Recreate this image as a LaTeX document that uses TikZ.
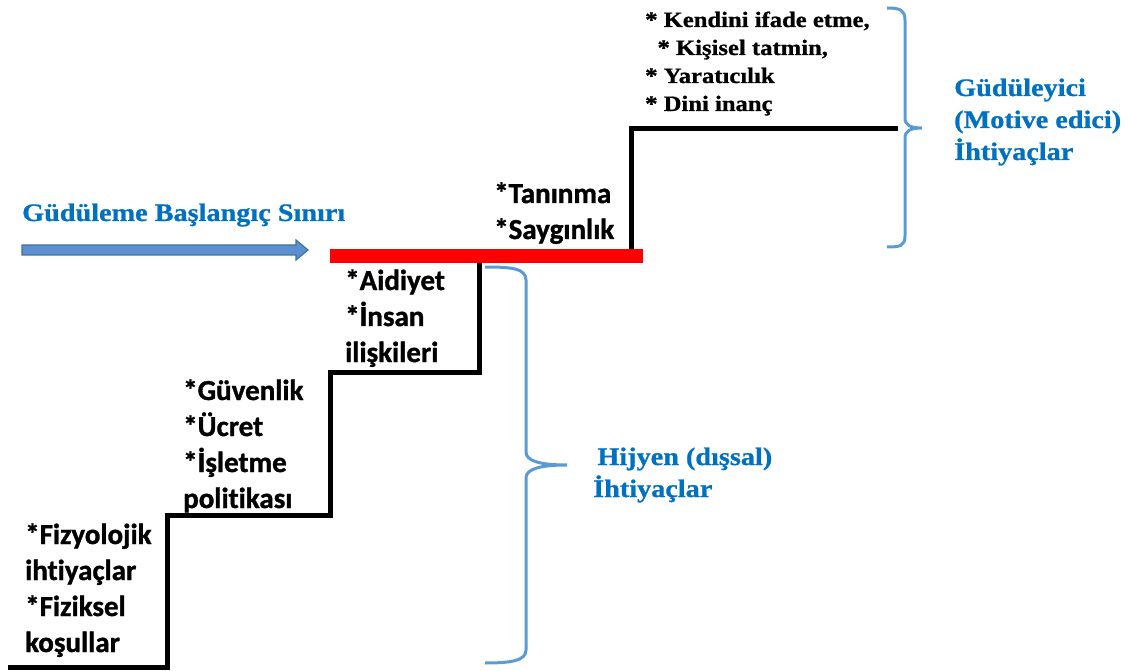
\documentclass[tikz,border=0pt]{standalone}
\usepackage{fontspec}
\setmainfont{Liberation Serif}
\newfontfamily\calfont[Ligatures=NoCommon, FakeBold=1.2]{Carlito Bold}
\newfontfamily\camfont[FakeStretch=1.12, FakeBold=0.8]{Liberation Serif Bold}
\usetikzlibrary{calc}
\definecolor{titleblue}{HTML}{0070C0}
\definecolor{bracecol}{HTML}{5B9BD5}
\definecolor{arrowfill}{HTML}{5B8FCF}
\definecolor{arrowedge}{HTML}{41719C}
\tikzset{
  stair/.style={line width=5pt, line join=miter, line cap=butt},
  brace/.style={draw=bracecol, line width=3pt, line cap=butt},
  steptext/.style={anchor=base west, inner sep=0pt, align=left,
    font=\calfont\fontsize{29}{36}\selectfont},
  toptext/.style={anchor=base west, inner sep=0pt, align=left,
    font=\camfont\fontsize{22}{28}\selectfont},
  bluetext/.style={anchor=base west, inner sep=0pt, align=left, text=titleblue,
    font=\camfont\fontsize{25.2}{32}\selectfont},
}
\begin{document}
\begin{tikzpicture}[x=1pt, y=-1pt]
\useasboundingbox (0,0) rectangle (1128,671);

% staircase
\draw[stair] (8,667) -- (167,667) -- (167,515) -- (330,515) -- (330,372)
  -- (479,372) -- (479,263);
\draw[stair] (631,249) -- (631,129) -- (898,129);

% motivation threshold bar
\fill[red] (330,249) rectangle (643,263);

% threshold arrow
\coordinate (arrtail) at (22,250);
\coordinate (arrtip) at (308,250);
\filldraw[fill=arrowfill, draw=arrowedge, line width=1.2pt, line join=miter]
  ($(arrtail)+(0,-5)$) -- ($(arrtip)+(-12,-5)$) -- ($(arrtip)+(-12,-10)$)
  -- (arrtip) -- ($(arrtip)+(-12,10)$) -- ($(arrtip)+(-12,5)$)
  -- ($(arrtail)+(0,5)$) -- cycle;

% braces
\draw[brace] (887,8) .. controls (900,8) and (905,10) .. (905,20) -- (905,118)
  .. controls (905,125) and (910,128) .. (922,128)
  .. controls (910,128) and (905,131) .. (905,138) -- (905,236)
  .. controls (905,246) and (900,247) .. (887,247);
\draw[brace] (485,267) .. controls (510,267) and (526,268) .. (526,280) -- (526,452)
  .. controls (526,461) and (540,465) .. (567,465)
  .. controls (540,465) and (526,469) .. (526,478) -- (526,650)
  .. controls (526,661) and (510,663) .. (485,663);

% labels (anchored at the baseline of their last line)
\node[bluetext] (threshold) at (22,221) {Güdüleme Başlangıç Sınırı};
\node[bluetext] (motiv) at (954,160) {Güdüleyici\\(Motive edici)\\İhtiyaçlar};
\node[bluetext] (hyg) at (593,497) {\,Hijyen (dışsal)\\İhtiyaçlar};

\node[steptext] (s1) at (25,652) {*Fizyolojik\\ihtiyaçlar\\*Fiziksel\\koşullar};
\node[steptext] (s2) at (183,508) {*Güvenlik\\*Ücret\\*İşletme\\politikası};
\node[steptext] (s3) at (345,362) {*Aidiyet\\*İnsan\\ilişkileri};
\node[steptext] (s4) at (494,239) {*Tanınma\\*Saygınlık};
\node[toptext] (s5) at (645,111) {* Kendini ifade etme,\\\ \ * Kişisel tatmin,\\* Yaratıcılık\\* Dini inanç};
\end{tikzpicture}
\end{document}
